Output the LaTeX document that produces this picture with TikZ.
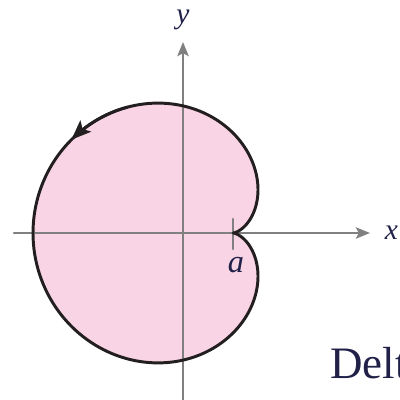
\documentclass[tikz,border=0pt]{standalone}
\usepackage{fontspec}
\setmainfont{Liberation Serif}
\usetikzlibrary{arrows.meta}
\definecolor{lobepink}{RGB}{249,212,228}
\definecolor{axisgray}{RGB}{128,128,128}
\definecolor{inkdark}{RGB}{35,31,32}
\definecolor{textdark}{RGB}{32,32,72}
\begin{document}
\begin{tikzpicture}[x=1.25cm,y=1.25cm,line cap=round,line join=round,
    axis/.style={draw=axisgray,line width=1.8pt},
    axisarrow/.style={axis,-{Stealth[length=10pt,width=8pt,inset=2pt,fill=axisgray]}},
    curve/.style={draw=inkdark,line width=2.1pt},
    lbl/.style={inner sep=0pt,text=textdark}]
  \useasboundingbox (-3.66,-3.34) rectangle (4.34,4.66);
  % the region
  \fill[lobepink] plot[domain=0:360,samples=241]
    ({2*cos(\x)-cos(2*\x)},{2*sin(\x)-sin(2*\x)}) -- cycle;
  % axes
  \coordinate (xl) at (-3.38,0);
  \coordinate (xr) at (3.74,0);
  \coordinate (yb) at (0,-3.40);
  \coordinate (yt) at (0,3.82);
  \draw[axisarrow] (xl) -- (xr);
  \draw[axisarrow] (yb) -- (yt);
  \coordinate (tickt) at (1,0.28);
  \coordinate (tickb) at (1,-0.32);
  \draw[axis] (tickt) -- (tickb);
  % boundary and its direction
  \draw[curve] plot[domain=0:360,samples=241]
    ({2*cos(\x)-cos(2*\x)},{2*sin(\x)-sin(2*\x)}) -- cycle;
  \draw[curve,-{Stealth[length=14pt,width=11pt,inset=3pt]}] plot[domain=130:150,samples=12]
    ({2*cos(\x)-cos(2*\x)},{2*sin(\x)-sin(2*\x)});
  % labels
  \node[lbl,font=\fontsize{21}{21}\selectfont\itshape] (ylab) at (0,4.26) {y};
  \node[lbl,font=\fontsize{21}{21}\selectfont\itshape,anchor=west] (xlab) at (4.03,0) {x};
  \node[lbl,font=\fontsize{23}{23}\selectfont\itshape] (alab) at (1.06,-0.64) {a};
  \node[lbl,font=\fontsize{32}{32}\selectfont,anchor=base west] (delt) at (2.94,-2.90) {Delt};
  \node[lbl,font=\fontsize{32}{32}\selectfont,anchor=base east] (paren) at (-3.60,-2.90) {)};
\end{tikzpicture}
\end{document}
